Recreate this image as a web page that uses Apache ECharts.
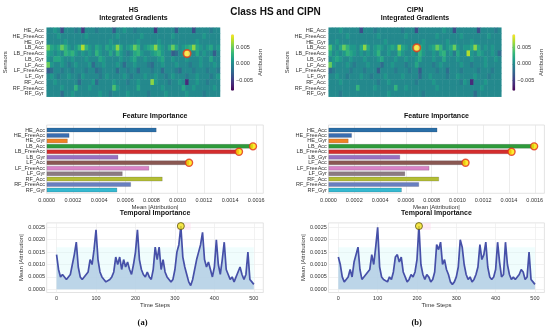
<!DOCTYPE html>
<html><head><meta charset="utf-8">
<script src="https://cdn.jsdelivr.net/npm/echarts@6/dist/echarts.min.js"></script>
<style>html,body{margin:0;padding:0;background:#fff}#c{width:550px;height:333px}</style>
</head><body><div id="c"></div>
<script>
// ---------------- DATA ----------------
const sensors = ['HE_Acc','HE_FreeAcc','HE_Gyr','LB_Acc','LB_FreeAcc','LB_Gyr','LF_Acc','LF_FreeAcc','LF_Gyr','RF_Acc','RF_FreeAcc','RF_Gyr'];
const barColors = ['#2a6fa8','#3a6db0','#f08224','#2e9b3a','#d42d2d','#9870c0','#8a5852','#d982c6','#8c7b82','#b3be34','#687fc0','#35b9d0'];

// heatmap attributions (units of 0.001), 12 sensors x 50 time bins (10 steps each)
const hsHeat = [
 [0,0,1,0,-4,0,0,0,-1,0, -5,0,0,0,-1,0,0,0,0,-3, 0,0,1,0,0,-1,0,0,0,0, 0,-5,0,0,0,0,0,-3,0,0, 0,0,-4,0,0,0,0,-1,0,0],
 [0,0,0,1,0,0,0,0,0,0, 0,1,0,0,0,0,0,0,0,0, 1,0,0,0,0,0,0,1,0,0, 0,0,0,0,0,0,1,0,0,0, 0,0,0,0,0,1,0,0,0,0],
 [0,0,0,0,0,1,0,0,0,0, 0,0,0,0,0,0,0,0,1,0, 0,0,0,0,0,0,1,0,0,0, 0,0,1,0,0,0,0,0,0,0, 0,0,0,1,0,0,0,0,0,0],
 [5,2,1,2,5,3,1,0,1,3, 7,3,1,0,2,1,0,2,1,2, 6,2,0,1,2,5,3,0,1,2, 3,6,2,1,0,2,5,2,0,1, 2,3,6,2,1,0,1,2,0,1],
 [2,1,0,1,0,3,2,3,1,0, 1,0,1,0,3,1,0,0,2,0, 3,1,0,-1,0,2,3,1,0,0, 1,2,3,1,0,0,-3,-2,0,1, 9,1,0,2,0,1,0,0,-3,0],
 [1,0,2,2,1,0,0,1,0,0, 0,1,0,0,0,2,1,0,0,0, 0,1,0,0,1,2,0,0,1,0, 0,0,1,2,0,0,1,0,0,0, 1,0,0,0,1,0,0,2,0,0],
 [5,1,0,0,1,0,-1,0,1,0, 0,0,1,-2,0,0,1,0,0,0, 1,0,-2,0,0,1,0,0,0,-1, -2,0,0,1,0,0,0,1,0,0, 0,-1,0,0,1,0,0,0,1,0],
 [-3,-2,0,0,-1,0,0,-1,0,0, 0,-1,0,0,-2,-1,0,0,0,0, -2,0,0,-1,0,0,-2,0,0,0, -1,0,0,-2,0,0,0,-1,-2,0, 0,0,-1,0,0,0,-1,0,0,-1],
 [0,1,0,-1,0,0,1,0,0,-1, 1,0,0,0,0,-1,0,1,0,0, 0,0,1,0,-1,0,0,0,1,0, 0,1,0,0,-1,0,1,0,0,0, -1,0,0,1,0,0,0,-1,0,1],
 [0,0,1,0,0,0,0,0,0,-2, 0,0,0,1,-2,0,0,0,0,1, 0,0,0,-1,0,0,1,0,0,0, 6,1,0,0,0,-1,0,0,1,0, -6,0,0,1,0,0,-1,0,0,0],
 [0,0,0,0,1,0,0,0,3,0, 0,0,1,0,0,0,0,0,0,4, 1,0,0,0,0,0,2,0,0,0, 0,0,0,1,0,0,0,0,0,2, 0,0,1,0,0,0,0,0,1,0],
 [0,0,0,0,-2,0,0,1,0,0, 0,0,0,0,0,1,0,0,-1,0, 0,0,0,1,0,0,0,0,0,-1, 0,0,0,0,1,0,0,0,0,0, 1,0,0,0,0,-1,0,0,0,0]
];
const cipnHeat = [
 [0,0,0,1,0,0,0,0,0,-4, 0,0,0,-1,0,0,0,0,0,0, 0,-1,0,0,0,-4,0,0,0,0, 0,0,0,1,0,0,-4,0,0,0, 0,0,0,-4,0,0,0,0,-1,0],
 [0,0,0,0,0,1,0,0,0,0, 0,0,0,0,1,0,0,0,0,0, 0,0,1,0,0,0,0,0,0,0, 0,1,0,0,0,0,0,0,1,0, 0,0,0,0,0,0,1,0,0,0],
 [0,0,1,0,0,0,0,0,0,0, 0,0,0,0,0,0,1,0,0,0, 0,0,0,0,0,0,0,1,0,0, 0,0,0,0,1,0,0,0,0,0, 0,1,0,0,0,0,0,0,0,0],
 [4,1,0,2,5,3,1,1,0,2, 6,2,0,1,2,1,0,1,2,1, 6,2,1,0,2,9,3,1,0,1, 2,5,3,0,1,2,5,1,0,1, 1,2,6,2,0,1,0,1,0,0],
 [2,0,1,0,1,3,2,1,0,1, 0,1,0,1,3,0,0,1,0,0, 3,1,0,0,1,0,3,1,0,0, 1,0,2,3,0,1,-1,2,0,0, 7,1,0,2,1,0,0,1,0,-2],
 [0,1,2,1,0,0,1,0,0,0, 1,0,0,0,1,2,0,0,0,1, 0,0,1,0,0,1,2,0,0,0, 1,0,0,2,0,0,0,1,0,0, 0,1,0,0,0,1,0,0,1,0],
 [5,1,0,0,0,1,0,-1,0,0, 0,1,0,0,0,-2,0,0,1,0, 0,0,-1,0,0,2,0,0,0,0, -1,0,1,0,0,0,0,0,1,0, 0,-1,0,0,0,1,0,0,0,0],
 [-2,-1,0,0,0,0,-1,0,0,0, -1,0,0,0,-3,0,0,0,0,-1, 0,0,0,-1,0,0,-3,0,0,0, 0,-1,0,0,-2,0,0,0,-1,0, 0,0,0,-1,0,0,0,-1,0,0],
 [0,0,1,0,0,-1,0,0,0,1, 0,0,-1,0,0,0,1,0,0,0, 0,1,0,0,0,0,-2,0,0,1, 0,0,0,0,-1,0,0,1,0,0, 0,0,1,0,0,0,-1,0,0,0],
 [0,0,0,1,0,0,0,0,0,0, 0,0,0,0,-1,0,0,1,0,0, 0,0,0,0,0,-1,0,0,0,0, 1,0,0,0,0,0,0,0,-1,1, 0,-6,0,0,0,1,0,0,0,0],
 [0,0,0,0,0,0,0,0,3,0, 0,0,0,1,0,0,0,0,0,3, 0,0,1,0,0,0,0,0,0,0, 0,1,0,0,0,0,0,0,0,0, 0,0,0,0,1,0,0,0,0,0],
 [0,0,0,-1,0,0,0,0,0,0, 0,0,0,0,0,0,0,1,0,0, 0,0,0,0,0,0,0,-1,0,0, 0,0,0,0,0,0,0,0,0,0, 0,0,-2,0,0,0,0,0,0,0]
];
const colorbarTicks = [-0.005, 0, 0.005];

// mean |attribution| per sensor
const hsImportance   = [0.000838,0.000173,0.000160,0.001575,0.001468,0.000546,0.001087,0.000782,0.000579,0.000884,0.000643,0.000538];
const cipnImportance = [0.000844,0.000181,0.000155,0.001595,0.001420,0.000555,0.001063,0.000782,0.000594,0.000857,0.000702,0.000568];
const featureTicks = [0,0.0002,0.0004,0.0006,0.0008,0.0010,0.0012,0.0014,0.0016];

// temporal importance (units of 1e-4), sampled every 5 steps from 0 to 500
const timeStep = 5;
const hsTemporal = [14,8,5,6,5,4,3.5,6,10,14, 19,9,5,4,5,6,7,12,10,16, 24,12,7,5,4,3,3.5,4,5,7, 13,10,13,8,12,9,11,8,6,10,
  15,24,12,8,6,5,7,5,4,8, 17,12,17,8,12,7,5,4,3,4, 8,15,18,25.5,13,9,6,3,1.5,4, 8,12,15,18,23,12,9,11,8,5,
  9,20,10,6,12,19,8,6,4,5, 3,5,7,9,6,4,6,15,4,3, 2];
const cipnTemporal = [13,10,5,3,4,5,8,5,11,14, 17,8,4,5,6,7,8,14,10,17, 25,9,5,4,4,3,5,4,7,13, 14,11,13,7,5,3,4,6,5,7,
  12,25.5,10,6,4,6,5,3,4,7, 18,16,19,10,12,8,6,3,2,3, 5,9,20,17,10,6,4,5,3,4, 6,9,18,12,14,19,9,5,4,5,
  8,19,11,5,6,19,10,6,4,5, 4,5,6,8,7,4,5,15,4,3, 2];
const temporalTicksX = [0,100,200,300,400,500];
const temporalTicksY = [0,0.0005,0.0010,0.0015,0.0020,0.0025];
// faint highlighted regions in the temporal panels: [t0, t1, y0, y1]
const hsShade   = [[0, 500, 0, 0.0017], [305, 340, 0.0024, 0.00268]];
const cipnShade = [[0, 500, 0, 0.0017], [200, 235, 0.0024, 0.00268]];

// ---------------- CHART ----------------
const viridis = ['#440154','#482878','#3e4989','#31688e','#26828e','#1f9e89','#35b779','#6ece58','#b5de2b','#fde725'];
const FONT = '"Liberation Sans", Arial, sans-serif';
const TXT = '#333';
const chart = echarts.init(document.getElementById('c'), null, {renderer:'canvas'});

const grid = [], xAxis = [], yAxis = [], series = [], visualMap = [], graphic = [];

function fmtMinus(v, d){ return (v < 0 ? '\u2212' : '') + Math.abs(v).toFixed(d); }
function title(text, x, y, size, family, weight){
  graphic.push({type:'text', x:x, y:y, silent:true, style:{text:text, fontSize:size, fontWeight:weight||'bold', fontFamily:family||FONT,
    fill:'#111', align:'center', verticalAlign:'middle', textAlign:'center', textVerticalAlign:'middle'}});
}

function buildSide(name, heat, importance, temporal, shade, L){
  // ---- heatmap ----
  let gi = grid.length;
  grid.push({left:L.heatL, top:27.7, width:L.heatW, height:69});
  const cols = heat[0].map((_, i) => i);
  xAxis.push({type:'category', gridIndex:gi, data:cols, show:false});
  yAxis.push({type:'category', gridIndex:gi, data:sensors, inverse:true,
    axisLine:{show:false}, axisTick:{show:false},
    axisLabel:{fontSize:5.5, color:TXT, margin:3, fontFamily:FONT, interval:0},
    name:'Sensors', nameLocation:'middle', nameGap:36, nameRotate:90,
    nameTextStyle:{fontSize:6, color:TXT, fontFamily:FONT}});
  const hdata = [];
  let best = null;
  heat.forEach((row, r) => row.forEach((v, c) => {
    hdata.push([c, r, v * 0.001]);
    if (!best || v > best[2]) best = [c, r, v];
  }));
  const heatIdx = series.length;
  series.push({type:'heatmap', xAxisIndex:gi, yAxisIndex:gi, data:hdata, progressive:0, emphasis:{disabled:true}});
  series.push({type:'scatter', xAxisIndex:gi, yAxisIndex:gi, data:[[best[0], best[1]]], symbolSize:7.5, z:10,
    itemStyle:{color:'#ffe95a', borderColor:'#e2381a', borderWidth:1.6}});
  visualMap.push({type:'continuous', seriesIndex:heatIdx, min:-0.0081, max:0.009, inRange:{color:viridis},
    orient:'vertical', left:L.cbL, top:34.3, itemWidth:3, itemHeight:56.4, padding:0, calculable:false,
    text:null, showLabel:false, hoverLink:false});

  // ---- colorbar axis ----
  gi = grid.length;
  grid.push({left:L.cbL, top:34.3, width:3, height:56.4});
  xAxis.push({type:'value', gridIndex:gi, show:false, min:0, max:1});
  yAxis.push({type:'value', gridIndex:gi, position:'right', min:-0.0081, max:0.009,
    axisLine:{show:false}, splitLine:{show:false},
    axisTick:{show:true, length:2, customValues:colorbarTicks, lineStyle:{color:'#333', width:0.6}},
    axisLabel:{customValues:colorbarTicks, fontSize:5.5, color:TXT, margin:2, fontFamily:FONT, formatter:v => fmtMinus(v,3)},
    name:'Attribution', nameLocation:'middle', nameGap:21, nameRotate:90,
    nameTextStyle:{fontSize:6, color:TXT, fontFamily:FONT}});

  // ---- feature importance frame ----
  const fMax = Math.max(...importance) * 1.05;
  gi = grid.length;
  grid.push({left:L.featL, top:125, width:L.featW, height:68.3, show:true, borderColor:'#dcdcdc', borderWidth:0.8});
  xAxis.push({type:'value', gridIndex:gi, min:0, max:fMax,
    axisLine:{show:false}, axisTick:{show:false, customValues:featureTicks},
    splitLine:{show:true, lineStyle:{color:'#e4e4e4', width:0.7}},
    axisLabel:{customValues:featureTicks, fontSize:5.5, color:TXT, margin:4, fontFamily:FONT, formatter:v => v.toFixed(4)},
    name:'Mean |Attribution|', nameLocation:'middle', nameGap:10,
    nameTextStyle:{fontSize:6, color:TXT, fontFamily:FONT}});
  yAxis.push({type:'value', gridIndex:gi, show:false, min:0, max:1});
  // ---- bars ----
  gi = grid.length;
  grid.push({left:L.featL, top:127.27, width:L.featW, height:65.45});
  xAxis.push({type:'value', gridIndex:gi, show:false, min:0, max:fMax});
  yAxis.push({type:'category', gridIndex:gi, data:sensors, inverse:true,
    axisLine:{show:false}, axisTick:{show:false},
    axisLabel:{fontSize:5.5, color:TXT, margin:1.7, fontFamily:FONT, interval:0}});
  series.push({type:'bar', xAxisIndex:gi, yAxisIndex:gi, barWidth:4.5,
    data:importance.map((v, i) => ({value:v, itemStyle:{color:barColors[i], borderColor:'rgba(40,40,60,0.35)', borderWidth:0.5}}))});
  const top3 = importance.map((v, i) => [v, i]).sort((a, b) => b[0] - a[0]).slice(0, 3);
  series.push({type:'scatter', xAxisIndex:gi, yAxisIndex:gi, symbolSize:7, z:10,
    data:top3.map(t => [t[0], sensors[t[1]]]),
    itemStyle:{color:'#ffe600', borderColor:'#e0301a', borderWidth:1.4}});

  // ---- temporal ----
  const pts = temporal.map((v, i) => [i * timeStep, v * 1e-4]);
  const tMax = Math.max(...temporal) * 1e-4;
  gi = grid.length;
  grid.push({left:L.featL, top:222.9, width:L.featW, height:69.6, show:true, borderColor:'#dcdcdc', borderWidth:0.8});
  xAxis.push({type:'value', gridIndex:gi, min:-25, max:524,
    axisLine:{show:false}, axisTick:{show:false, customValues:temporalTicksX},
    splitLine:{show:true, lineStyle:{color:'#ececec', width:0.7}},
    axisLabel:{customValues:temporalTicksX, fontSize:5.5, color:TXT, margin:3, fontFamily:FONT},
    name:'Time Steps', nameLocation:'middle', nameGap:9.5,
    nameTextStyle:{fontSize:6, color:TXT, fontFamily:FONT}});
  yAxis.push({type:'value', gridIndex:gi, min:-tMax*0.05, max:tMax*1.05,
    axisLine:{show:false}, axisTick:{show:false, customValues:temporalTicksY},
    splitLine:{show:true, lineStyle:{color:'#ececec', width:0.7}},
    axisLabel:{customValues:temporalTicksY, fontSize:5.5, color:TXT, margin:1.7, fontFamily:FONT, formatter:v => v.toFixed(4)},
    name:'Mean |Attribution|', nameLocation:'middle', nameGap:22, nameRotate:90,
    nameTextStyle:{fontSize:6, color:TXT, fontFamily:FONT}});
  series.push({type:'line', xAxisIndex:gi, yAxisIndex:gi, data:pts, showSymbol:false, smooth:false, z:3,
    lineStyle:{color:'#4650a8', width:1.7}, areaStyle:{color:'#b3cee4', opacity:0.85},
    markArea:{silent:true, z:1, data:[
      [{coord:[shade[0][0], shade[0][2]], itemStyle:{color:'rgba(205,250,250,0.3)'}}, {coord:[shade[0][1], shade[0][3]]}],
      [{coord:[shade[1][0], shade[1][2]], itemStyle:{color:'rgba(255,215,235,0.45)'}}, {coord:[shade[1][1], shade[1][3]]}]
    ]}});
  let mi = 0; temporal.forEach((v, i) => { if (v > temporal[mi]) mi = i; });
  series.push({type:'scatter', xAxisIndex:gi, yAxisIndex:gi, data:[pts[mi]], symbolSize:7, z:10,
    itemStyle:{color:'#f3e41c', borderColor:'#5a5410', borderWidth:1}});

  // ---- titles ----
  title(name, L.titleX, 10, 7);
  title('Integrated Gradients', L.titleX, 18.3, 7);
  title('Feature Importance', L.featL + L.featW / 2, 116, 7);
  title('Temporal Importance', L.featL + L.featW / 2, 213.3, 7);
  title(L.tag, L.tagX, 322.8, 8.5, '"Liberation Serif", "Times New Roman", serif');
}

buildSide('HS', hsHeat, hsImportance, hsTemporal, hsShade,
  {heatL:46.7, heatW:173.3, cbL:231, featL:46.7, featW:216.6, titleX:133.5, tag:'(a)', tagX:142.5});
buildSide('CIPN', cipnHeat, cipnImportance, cipnTemporal, cipnShade,
  {heatL:328.7, heatW:172.6, cbL:512.3, featL:328.5, featW:215.9, titleX:415, tag:'(b)', tagX:416.7});
title('Class HS and CIPN', 275.5, 12.5, 10);

chart.setOption({animation:false, backgroundColor:'#fff', textStyle:{fontFamily:FONT},
  grid, xAxis, yAxis, series, visualMap, graphic});
</script></body></html>
